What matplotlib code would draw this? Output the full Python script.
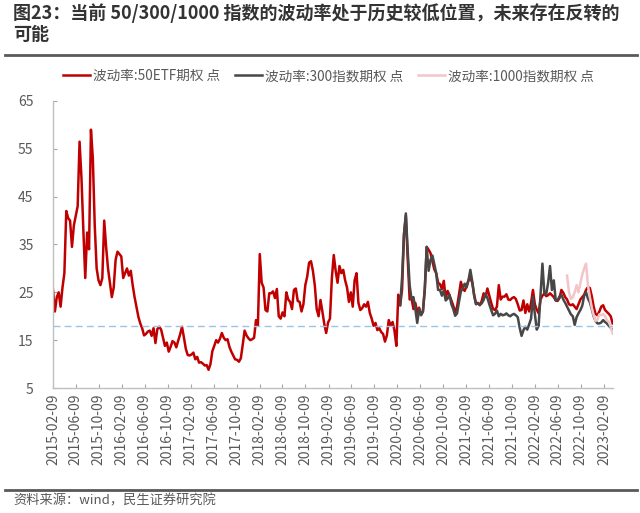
import matplotlib
matplotlib.use("Agg")
import matplotlib.pyplot as plt
import matplotlib.dates as mdates
from matplotlib.lines import Line2D
import pandas as pd

plt.rcParams['font.family'] = ['Noto Sans CJK SC', 'DejaVu Sans']

title = "图23：当前 50/300/1000 指数的波动率处于历史较低位置，未来存在反转的\n可能"
source = "资料来源：wind，民生证券研究院"
labels = ["波动率:50ETF期权 点", "波动率:300指数期权 点", "波动率:1000指数期权 点"]

# ---- data: readings at evenly spaced dates (~10 days apart) ----
start_date, end_date = "2015-02-09", "2023-03-26"

red_vals = [
    25.5, 21, 24, 25, 22, 26, 29, 42, 40.5, 40,
    34.5, 39, 41, 43, 56.5, 49, 38, 28, 37.5, 34,
    59, 53, 39, 30, 27.5, 26.5, 28, 40, 34.5, 30,
    27, 24, 26, 31.8, 33.5, 33, 32.5, 28, 29, 30,
    28.5, 29.5, 26.5, 24, 22, 19.9, 18.5, 17.5, 16, 16.3,
    16.8, 17, 15.9, 17.5, 14.4, 17.3, 17.8, 17.2, 15.5, 13.8,
    14.5, 12.6, 13.6, 14.8, 14.5, 13.5, 14.9, 16.2, 17.8, 15.6,
    13.2, 11.9, 11.8, 12, 12.4, 11, 11.5, 10.3, 10.4, 10.1,
    9.7, 9.8, 8.8, 10, 12.7, 13.8, 15, 14.5, 15.3, 16.5,
    15.5, 15, 15.2, 13.6, 12.6, 11.8, 11, 10.9, 10.5, 11.2,
    14, 17, 16, 15.4, 15, 15.2, 15.5, 19.2, 18, 33,
    27, 26, 21.3, 21, 24.8, 24.8, 25.2, 23.8, 25.7, 20,
    19.5, 20.8, 20, 25, 23.5, 23, 21.5, 25.5, 25.8, 23.2,
    23, 21, 22.5, 26.5, 28.3, 31.2, 31.5, 29.5, 26.5, 21.5,
    20, 23.4, 21, 18.4, 16.5, 18.7, 19.5, 28, 32.8, 29.5,
    27, 30.5, 29, 29.7, 27.5, 26, 23, 25, 22, 27.5,
    29, 22.8, 21.3, 21.7, 22.5, 22, 23, 20.7, 19.5, 18,
    18.6, 17.1, 17.5, 16.7, 16.3, 14.7, 16, 19.2, 18, 18.8,
    17, 13.8, 24.5, 22.3, 25.5, 37, 41, 31.8, 23.5, 23.8,
    21.5, 22.8, 20.8, 21.8, 20.2, 21, 25.5, 34.5, 33.9, 33.2,
    31.5, 29.8, 29, 27, 26.7, 25.7, 27.4, 23.8, 25.3, 24.4,
    23.3, 22.2, 20.8, 22, 24.5, 27.2, 25.8, 25.3, 26.3, 27.5,
    28, 27, 24.5, 22.6, 22.8, 22.3, 23.2, 24.8, 24.1, 25.8,
    24.3, 22.8, 21.5, 21.3, 22, 26.5, 23.5, 24.1, 24.1, 24.6,
    23.5, 23.4, 23.8, 24, 23.6, 22.5, 21.2, 21.3, 23.3, 20.7,
    22.5, 21, 22.8, 25.5, 22.5, 21.4, 20.6, 23.5, 24.3, 24.7,
    24.2, 24.4, 24.8, 24.4, 24, 23.3, 23.2, 23.8, 25.5, 24.9,
    24, 23.5, 22.5, 22.3, 22.5, 22, 21.5, 22.5, 23.5, 24,
    24.5, 25.5, 26.1, 25.9, 24.2, 22, 20.5, 20.2, 21, 22,
    22.3, 21.3, 20.9, 20.5, 20, 18.5]

grey_vals = [
    22.3, 28, 37, 41.5, 33.5, 26.5, 23.6,
    24, 21.5, 18.6, 21.5, 20.3, 21, 26, 34.5, 29.5, 31.8,
    32.7, 30.9, 29, 25.5, 25.5, 24.3, 25.4, 23.3, 23.7, 24.5,
    22.5, 21.5, 20.1, 20.6, 23, 25.2, 25.8, 26.8, 26, 27.5,
    29.7, 27.3, 24.3, 22.5, 22.7, 22.4, 22.7, 23.4, 24.7, 23.8,
    22.5, 21.3, 20.2, 20.5, 21.2, 20, 20.5, 20.2, 20.3, 20.6,
    20.2, 20, 20.3, 20.5, 20.2, 19.8, 17.6, 15.9, 17.1, 17.8,
    17.2, 18.3, 19.5, 24, 20.5, 17.2, 18, 24.5, 31, 24.8,
    24.6, 27, 30.5, 25.5, 27.5, 23.3, 23.4, 24.1, 24.5, 23.5,
    22.8, 22, 21.2, 20.4, 20, 18.2, 19.8, 20.6, 21.3, 22.2,
    24.3, 25, 23.7, 22.9, 21.5, 20, 19, 18.5, 18.5, 18.7,
    19.2, 18.8, 18.5, 18, 17.6, 17.1]

pink_vals = [
    28.5, 25, 23.6, 24, 25, 26.5, 25, 26.9, 28.7,
    30, 31, 26.5, 24, 21.8, 20.2, 19, 19.3, 20.4, 20.2,
    20.5, 20, 19.2, 18.8, 17.8, 16.4]

ref_level = 18
tick_dates = pd.date_range("2015-02-09", "2023-02-09", freq=pd.DateOffset(months=4))
y_ticks = [5, 15, 25, 35, 45, 55, 65]

dates = pd.date_range(start_date, end_date, periods=len(red_vals))
grey_dates = dates[len(dates) - len(grey_vals):]
pink_dates = dates[len(dates) - len(pink_vals):]

# ---- figure ----
fig = plt.figure(figsize=(6.4, 5.13), dpi=100)
W, H = 640, 513
ax = fig.add_axes([53 / W, 1 - 388 / H, (613 - 53) / W, (388 - 101) / H])

txt_col = '#595959'
l1, = ax.plot(dates, red_vals, color='#C00000', lw=1.8)
l2, = ax.plot(grey_dates, grey_vals, color='#474747', lw=1.8)
l3, = ax.plot(pink_dates, pink_vals, color='#F3C5C9', lw=1.8)
ax.axhline(ref_level, color='#9DC3E6', lw=1.0, dashes=(5, 3))

ax.set_ylim(5, 65)
ax.set_yticks(y_ticks)
ax.set_xlim(pd.Timestamp("2015-02-09"), pd.Timestamp("2023-03-28"))
ax.set_xticks(tick_dates)
ax.xaxis.set_major_formatter(mdates.DateFormatter("%Y-%m-%d"))
for lab in ax.get_xticklabels():
    lab.set_rotation(90)

for s in ['top', 'right']:
    ax.spines[s].set_visible(False)
for s in ['left', 'bottom']:
    ax.spines[s].set_color('#BFBFBF')
    ax.spines[s].set_linewidth(1.0)
ax.tick_params(axis='both', direction='in', length=3, color='#A6A6A6', labelcolor=txt_col, labelsize=10)
ax.tick_params(axis='y', pad=14)
ax.tick_params(axis='x', pad=4)

fig.legend([l1, l2, l3], labels, loc='center', bbox_to_anchor=(0.513, 1 - 76 / H), ncol=3,
           frameon=False, fontsize=9.8, handlelength=2.0, handletextpad=0.2, columnspacing=1.1,
           labelcolor=txt_col)

fig.text(13 / W, 1 - 3 / H, title, ha='left', va='top', fontsize=13, fontweight='bold',
         color='#333333', linespacing=1.15)
fig.add_artist(Line2D([5 / W, 637 / W], [1 - 55 / H] * 2, color='#595959', lw=2))
fig.add_artist(Line2D([5 / W, 637 / W], [1 - 490 / H] * 2, color='#595959', lw=2))
fig.text(13 / W, 1 - 501 / H, source, ha='left', va='center', fontsize=9.5, color=txt_col)

fig.savefig("out.png", dpi=100)
